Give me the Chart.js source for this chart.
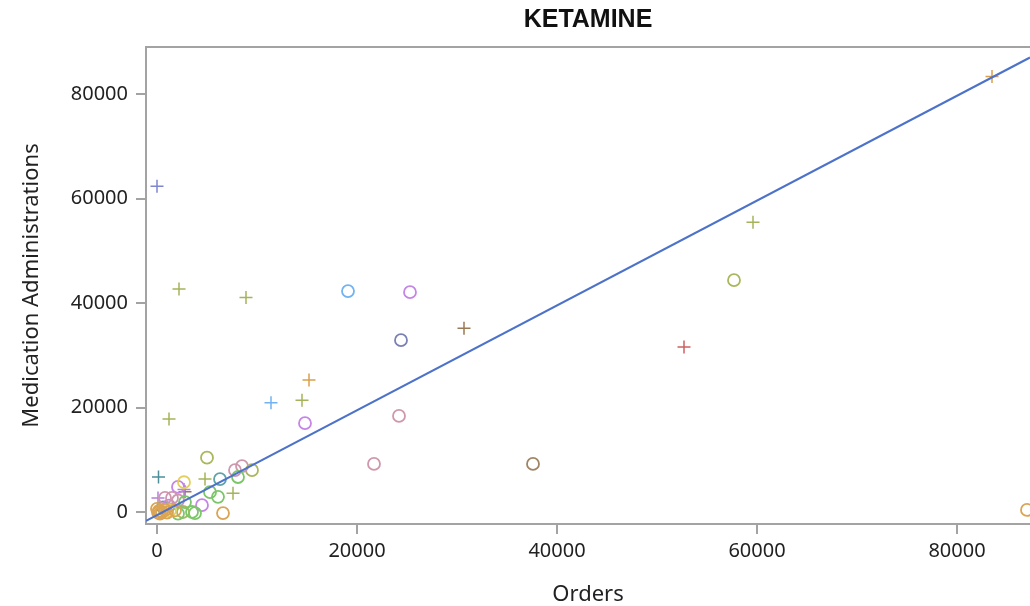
<!DOCTYPE html>
<html>
<head>
<meta charset="utf-8">
<title>KETAMINE</title>
<script src="https://cdn.jsdelivr.net/npm/chart.js@4.4.1/dist/chart.umd.min.js"></script>
<style>
  html, body { margin: 0; padding: 0; background: #fff; }
  canvas { display: block; }
</style>
</head>
<body>
<canvas id="myChart" width="1030" height="606"></canvas>
<script>
// tick labels
var xTicks = [0, 20000, 40000, 60000, 80000];
var yTicks = [0, 20000, 40000, 60000, 80000];

// points, [orders, medication administrations], one array per group
var slatePlus = [[0, 62400]];
var slateCircle = [[24400, 32900]];
var redPlus = [[52700, 31600]];
var tealPlus = [[150, 6700]];
var tealCircle = [[6300, 6300], [600, 900]];
var brownPlus = [[30700, 35200], [2800, 3900]];
var brownCircle = [[37600, 9200]];
var purpleCircle = [[25300, 42100], [14800, 17000], [2100, 4800], [4500, 1300], [1200, 1200]];
var purplePlus = [[100, 2700], [2700, 4300]];
var olivePlus = [[2200, 42700], [8900, 41100], [14500, 21400], [1200, 17800], [59600, 55500], [4800, 6300], [7600, 3600]];
var oliveCircle = [[57700, 44400], [5000, 10400], [9500, 8000], [2600, 0]];
var lightBluePlus = [[11400, 20900]];
var lightBlueCircle = [[19100, 42300]];
var pinkCircle = [[24200, 18400], [21700, 9200], [7800, 8000], [8500, 8800], [800, 2700], [1500, 2700], [2100, 2200]];
var orangePlus = [[15200, 25300], [83500, 83400], [300, 600]];
var orangeCircle = [[87000, 400], [6600, -200], [200, 200], [500, 0], [800, 400], [300, -300], [1000, -100], [0, 600], [1800, 300], [100, -100]];
var greenCircle = [[8100, 6700], [5300, 3800], [6100, 2900], [2800, 1900], [3500, 0], [2100, -300], [3800, -200]];
var yellowCircle = [[2700, 5700], [400, 100], [1300, 300]];

// fitted line
var fitX = [-1100, 87300];
var fitY = [-1700, 87050];

function toXY(arr) {
  return arr.map(function (p) { return { x: p[0], y: p[1] }; });
}

function pts(data, color, style) {
  return {
    type: 'scatter',
    data: toXY(data),
    borderColor: color,
    backgroundColor: 'rgba(0,0,0,0)',
    pointStyle: style,
    pointRadius: style == 'circle' ? 6 : 6.5,
    pointBorderWidth: style == 'circle' ? 1.8 : 1.5,
    pointHoverRadius: 6
  };
}

// top frame line
var frameTop = {
  id: 'frameTop',
  afterDraw: function (chart) {
    var a = chart.chartArea;
    var c = chart.ctx;
    c.save();
    c.strokeStyle = '#a3a3a3';
    c.lineWidth = 2;
    c.beginPath();
    c.moveTo(a.left - 1, a.top);
    c.lineTo(a.right, a.top);
    c.stroke();
    c.restore();
  }
};

var axisColor = '#a3a3a3';
var tickFont = { family: 'Noto Sans', size: 20 };

function plainNum(v) { return String(v); }

var ctx = document.getElementById('myChart').getContext('2d');
var myChart = new Chart(ctx, {
  data: {
    datasets: [
      {
        type: 'line',
        data: fitX.map(function (x, i) { return { x: x, y: fitY[i] }; }),
        borderColor: '#4d72c9',
        borderWidth: 2.2,
        pointRadius: 0,
        fill: false
      },
      pts(orangeCircle, '#dba455', 'circle'),
      pts(yellowCircle, '#e3cf5a', 'circle'),
      pts(greenCircle, '#7cc66a', 'circle'),
      pts(pinkCircle, '#cf97ae', 'circle'),
      pts(purpleCircle, '#c585e6', 'circle'),
      pts(oliveCircle, '#a8b85c', 'circle'),
      pts(tealCircle, '#5fa3a8', 'circle'),
      pts(brownCircle, '#a08564', 'circle'),
      pts(slateCircle, '#7a80b4', 'circle'),
      pts(lightBlueCircle, '#71b2f2', 'circle'),
      pts(olivePlus, '#a4b45a', 'cross'),
      pts(orangePlus, '#d9a04c', 'cross'),
      pts(purplePlus, '#b57ee0', 'cross'),
      pts(brownPlus, '#9a7a55', 'cross'),
      pts(redPlus, '#d06060', 'cross'),
      pts(tealPlus, '#4f8f98', 'cross'),
      pts(slatePlus, '#7f86d0', 'cross'),
      pts(lightBluePlus, '#71b2f2', 'cross')
    ]
  },
  options: {
    responsive: false,
    animation: false,
    layout: { padding: 0, autoPadding: false },
    plugins: {
      legend: { display: false },
      tooltip: { enabled: false },
      title: {
        display: true,
        text: 'KETAMINE',
        fullSize: false,
        color: '#111',
        font: { family: 'Liberation Sans', size: 25, weight: 'bold' },
        padding: { top: 5, bottom: 12 }
      }
    },
    scales: {
      x: {
        type: 'linear',
        min: -1100,
        max: 87300,
        afterBuildTicks: function (scale) {
          scale.ticks = xTicks.map(function (v) { return { value: v }; });
        },
        afterFit: function (scale) {
          scale.height = 82;
          scale.paddingLeft = 0;
          scale.paddingRight = 0;
        },
        border: { display: true, color: axisColor, width: 2 },
        grid: { display: true, drawOnChartArea: false, drawTicks: true, tickLength: 10, color: axisColor, lineWidth: 2 },
        ticks: { color: '#222', font: tickFont, padding: 5, maxRotation: 0, callback: plainNum },
        title: {
          display: true,
          text: 'Orders',
          color: '#222',
          font: { family: 'Noto Sans', size: 22, lineHeight: 1.0 },
          padding: { top: 0, bottom: 0 }
        }
      },
      y: {
        type: 'linear',
        min: -2300,
        max: 89050,
        afterBuildTicks: function (scale) {
          scale.ticks = yTicks.map(function (v) { return { value: v }; });
        },
        afterFit: function (scale) {
          scale.width = 146;
          scale.paddingTop = 0;
          scale.paddingBottom = 0;
        },
        border: { display: true, color: axisColor, width: 2 },
        grid: { display: true, drawOnChartArea: false, drawTicks: true, tickLength: 10, color: axisColor, lineWidth: 2 },
        ticks: { color: '#222', font: tickFont, padding: 8, callback: plainNum },
        title: {
          display: true,
          text: 'Medication Administrations',
          color: '#222',
          font: { family: 'Noto Sans', size: 22, lineHeight: 1.2 },
          padding: { top: 19, bottom: 0 }
        }
      }
    }
  },
  plugins: [frameTop]
});
</script>
</body>
</html>
